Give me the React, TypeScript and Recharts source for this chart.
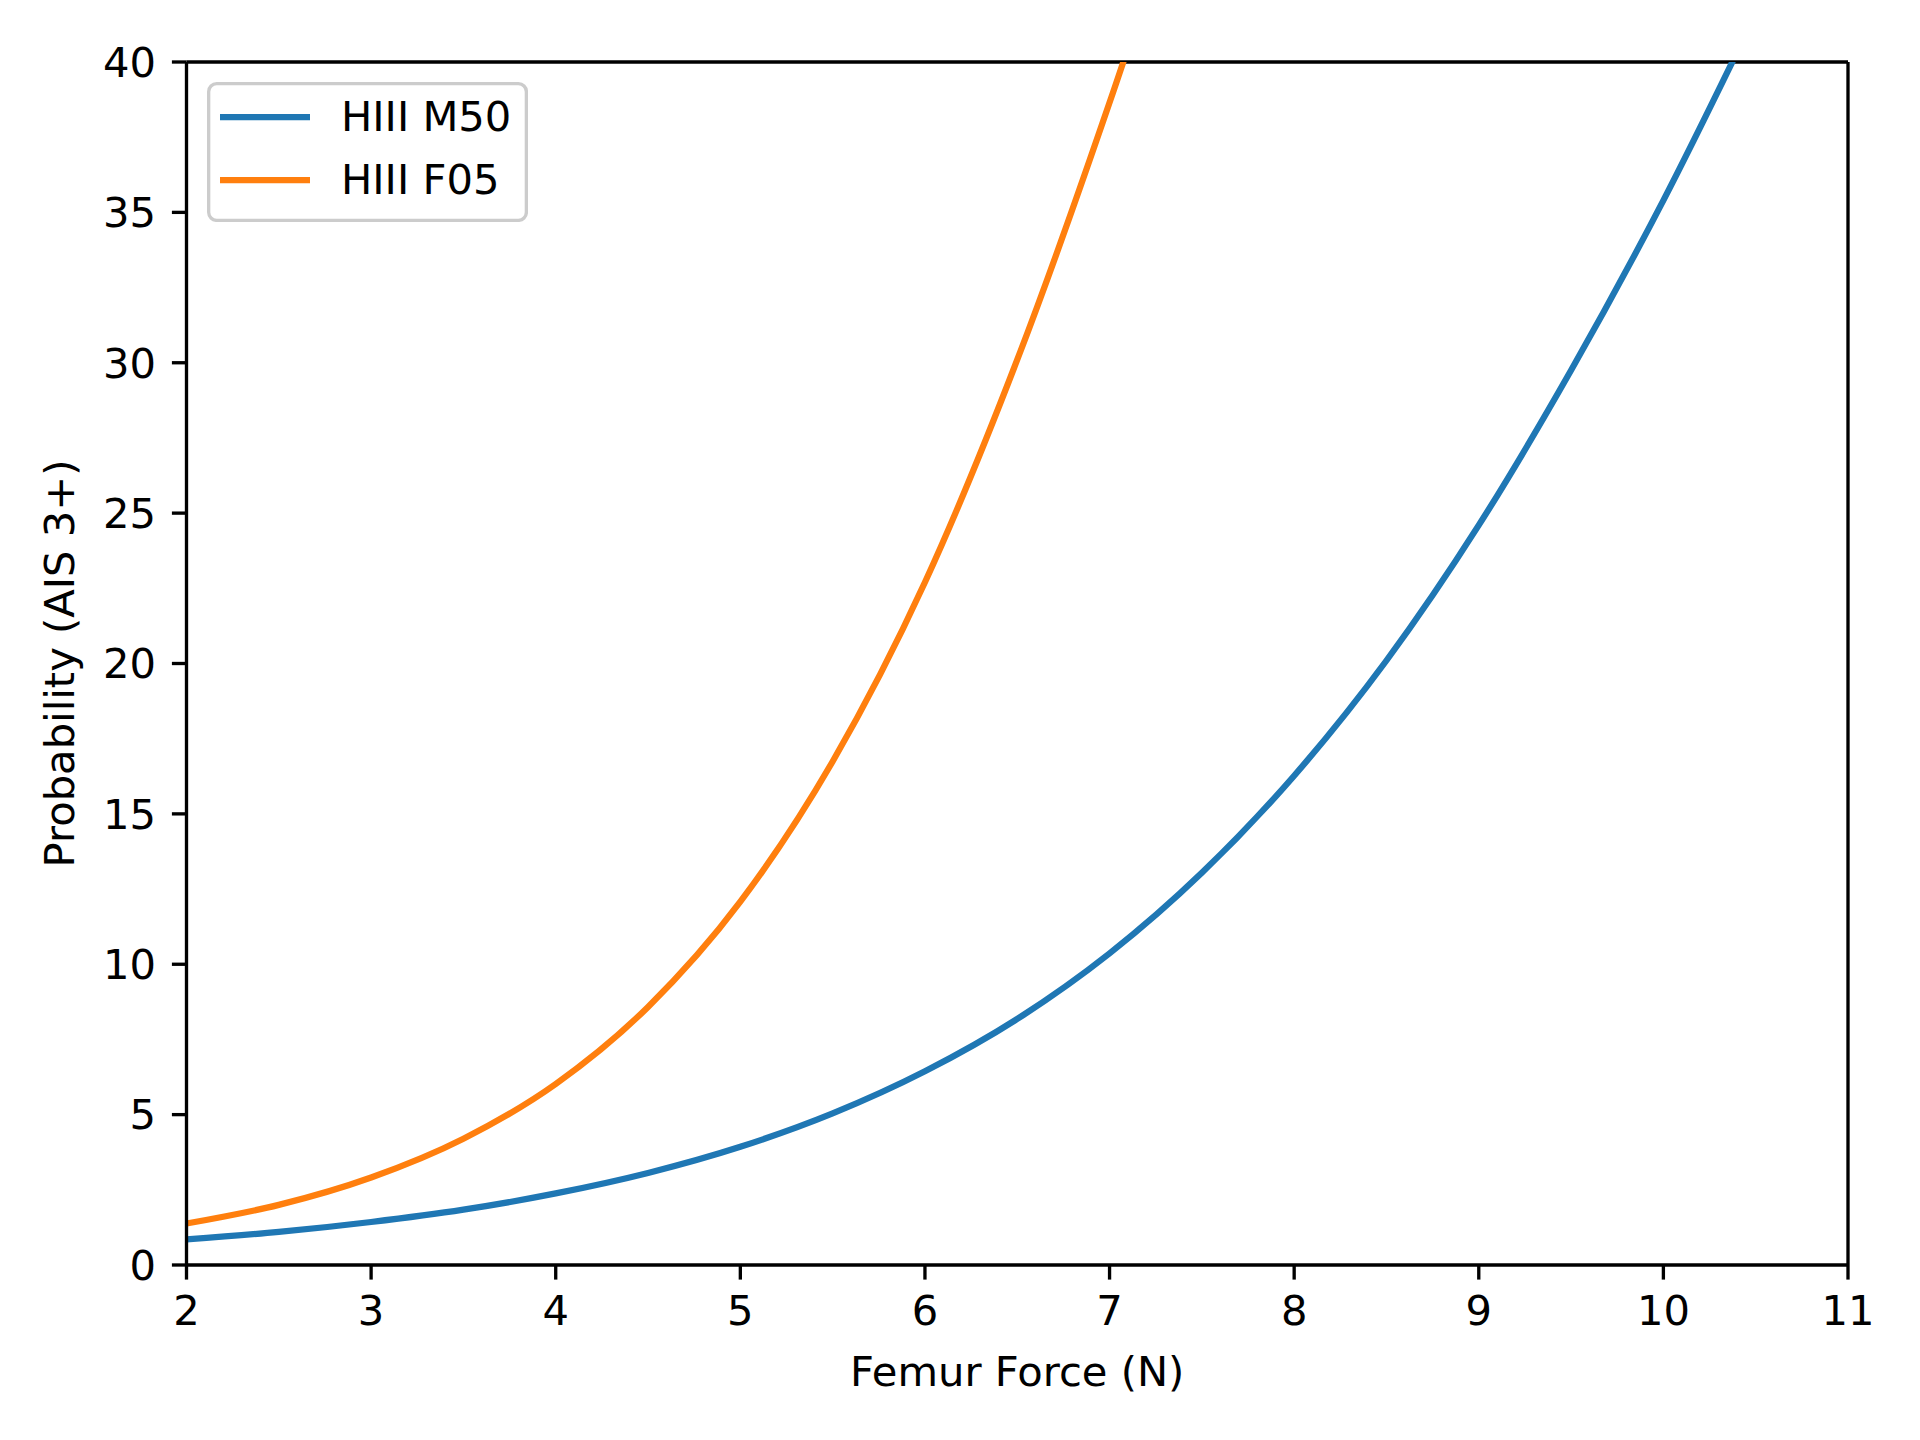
import { LineChart, Line, XAxis, YAxis, Legend, Label, ReferenceLine } from "recharts";

const force = [2, 2.5, 3, 3.5, 4, 4.5, 5, 5.5, 6, 6.5, 7, 7.5, 8, 8.5, 9, 9.5, 10, 10.5];
const m50 = [0.85, 1.1, 1.43, 1.84, 2.38, 3.06, 3.93, 5.04, 6.44, 8.18, 10.36, 13.04, 16.27, 20.1, 24.6, 29.75, 35.4, 41.6];
const f05 = [1.38, 2.0, 2.91, 4.2, 6.02, 8.58, 12.08, 16.74, 22.7, 30.1, 38.65, 48.0];
const xTicks = [2, 3, 4, 5, 6, 7, 8, 9, 10, 11];
const yTicks = [0, 5, 10, 15, 20, 25, 30, 35, 40];
const seriesNames = ["HIII M50", "HIII F05"];

const BLUE = "#1f77b4";
const ORANGE = "#ff7f0e";
const FONT = "'DejaVu Sans', sans-serif";
const FS = 41.67;
const LW = 3.33;

const data = force.map((f, i) => ({
  force: f,
  m50: m50[i],
  f05: i < f05.length ? f05[i] : null,
}));

const tickStyle = { fontSize: FS, fill: "#000", fontFamily: FONT };
const lineStyle = { stroke: "#000", strokeWidth: LW };

function LegendBox() {
  const colors = [BLUE, ORANGE];
  return (
    <svg width={321} height={140} style={{ display: "block" }}>
      <rect x={1.67} y={1.67} width={317.7} height={136.7} rx={8} fill="#fff" fillOpacity={0.8} stroke="#cccccc" strokeWidth={LW} />
      {seriesNames.map((name, i) => (
        <g key={name}>
          <line x1={13} x2={103} y1={35 + i * 63} y2={35 + i * 63} stroke={colors[i]} strokeWidth={6.25} />
          <text x={134} y={48.7 + i * 63.3} fontSize={FS} fontFamily={FONT} fill="#000">{name}</text>
        </g>
      ))}
    </svg>
  );
}

export default function App() {
  return (
    <div style={{ position: "absolute", left: 0, top: 0, background: "#fff", fontFamily: FONT }}>
      <LineChart width={1920} height={1440} data={data} margin={{ top: 62, right: 72, left: 0, bottom: 0 }}>
        <XAxis
          dataKey="force"
          type="number"
          domain={[2, 11]}
          ticks={xTicks}
          height={175}
          tick={tickStyle}
          tickSize={14.6}
          tickMargin={16}
          axisLine={lineStyle}
          tickLine={lineStyle}
        >
          <Label
            content={({ viewBox }: any) => (
              <text x={viewBox.x + viewBox.width / 2} y={1386} textAnchor="middle" fontSize={FS} fontFamily={FONT} fill="#000">
                Femur Force (N)
              </text>
            )}
          />
        </XAxis>
        <YAxis
          type="number"
          domain={[0, 40]}
          ticks={yTicks}
          allowDataOverflow
          width={186.5}
          tick={tickStyle}
          tickSize={14.6}
          tickMargin={16}
          axisLine={lineStyle}
          tickLine={lineStyle}
        >
          <Label
            content={({ viewBox }: any) => (
              <text
                x={74}
                y={viewBox.y + viewBox.height / 2}
                transform={`rotate(-90 74 ${viewBox.y + viewBox.height / 2})`}
                textAnchor="middle"
                fontSize={FS}
                fontFamily={FONT}
                fill="#000"
              >
                Probability (AIS 3+)
              </text>
            )}
          />
        </YAxis>
        <ReferenceLine y={40} stroke="#000" strokeWidth={LW} ifOverflow="visible" />
        <ReferenceLine x={11} stroke="#000" strokeWidth={LW} ifOverflow="visible" />
        <Line type="monotone" dataKey="m50" name={seriesNames[0]} stroke={BLUE} strokeWidth={6.25} dot={false} isAnimationActive={false} />
        <Line type="monotone" dataKey="f05" name={seriesNames[1]} stroke={ORANGE} strokeWidth={6.25} dot={false} isAnimationActive={false} />
        <Legend
          layout="vertical"
          align="center"
          verticalAlign="middle"
          content={() => <LegendBox />}
          wrapperStyle={{ position: "absolute", left: 207, top: 82, width: 321, height: 140 }}
        />
      </LineChart>
    </div>
  );
}
